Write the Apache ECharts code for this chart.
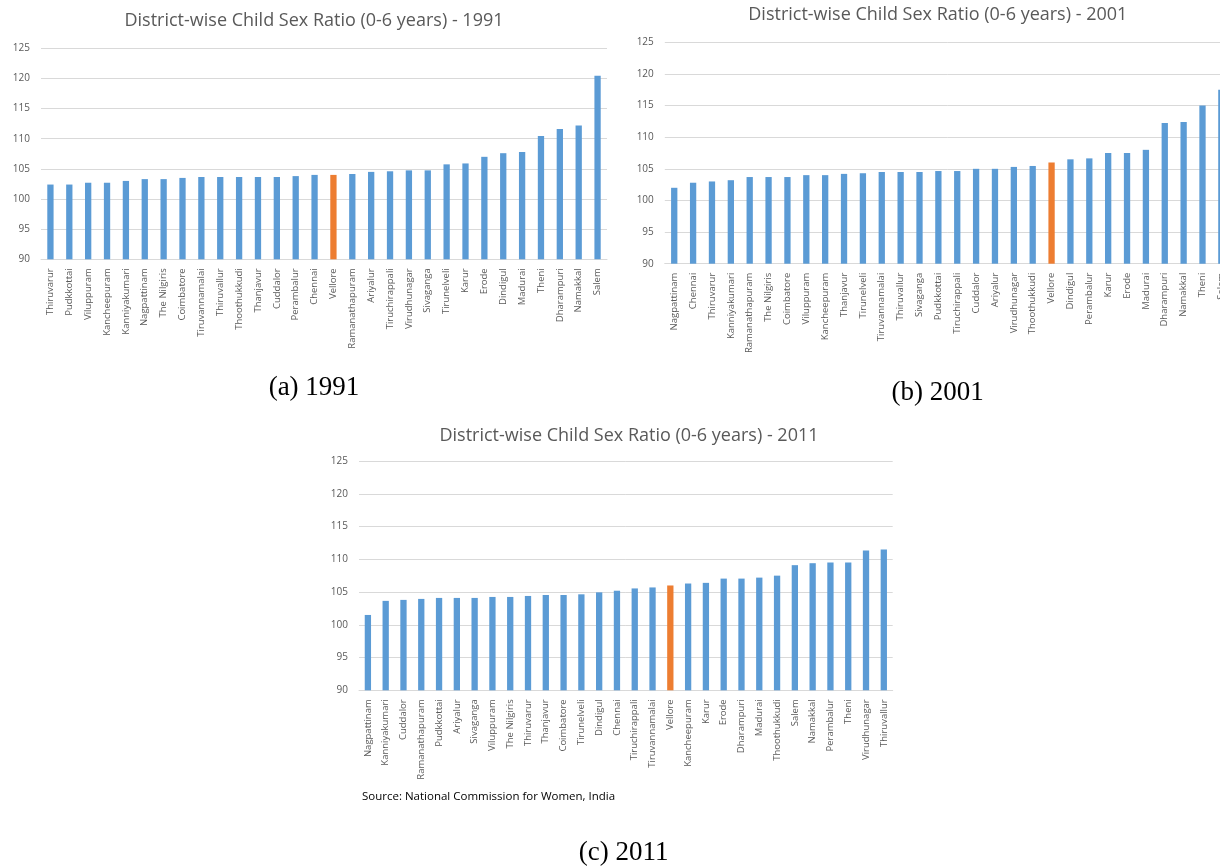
<!DOCTYPE html>
<html>
<head>
<meta charset="utf-8">
<script src="https://cdn.jsdelivr.net/npm/echarts@6/dist/echarts.min.js"></script>
<style>
html,body{margin:0;padding:0;background:#fff;overflow:hidden;}
#chart{width:1240px;height:867px;}
</style>
</head>
<body>
<div id="chart"></div>
<script>
// ---------- data ----------
const cats1991 = ["Thiruvarur","Pudkkottai","Viluppuram","Kancheepuram","Kanniyakumari","Nagpattinam","The Nilgiris","Coimbatore","Tiruvannamalai","Thiruvallur","Thoothukkudi","Thanjavur","Cuddalor","Perambalur","Chennai","Vellore","Ramanathapuram","Ariyalur","Tiruchirappali","Virudhunagar","Sivaganga","Tirunelveli","Karur","Erode","Dindigul","Madurai","Theni","Dharampuri","Namakkal","Salem"];
const vals1991 = [102.4,102.4,102.7,102.7,103.0,103.3,103.3,103.5,103.65,103.65,103.65,103.65,103.65,103.8,104.0,104.0,104.15,104.5,104.6,104.75,104.75,105.75,105.9,107.0,107.6,107.8,110.45,111.6,112.2,120.45];

const cats2001 = ["Nagpattinam","Chennai","Thiruvarur","Kanniyakumari","Ramanathapuram","The Nilgiris","Coimbatore","Viluppuram","Kancheepuram","Thanjavur","Tirunelveli","Tiruvannamalai","Thiruvallur","Sivaganga","Pudkkottai","Tiruchirappali","Cuddalor","Ariyalur","Virudhunagar","Thoothukkudi","Vellore","Dindigul","Perambalur","Karur","Erode","Madurai","Dharampuri","Namakkal","Theni","Salem"];
const vals2001 = [102.0,102.8,103.0,103.2,103.7,103.7,103.7,104.0,104.0,104.2,104.3,104.5,104.5,104.5,104.65,104.65,105.0,105.0,105.3,105.45,106.0,106.5,106.65,107.5,107.5,108.0,112.25,112.4,115.0,117.5];

const cats2011 = ["Nagpattinam","Kanniyakumari","Cuddalor","Ramanathapuram","Pudkkottai","Ariyalur","Sivaganga","Viluppuram","The Nilgiris","Thiruvarur","Thanjavur","Coimbatore","Tirunelveli","Dindigul","Chennai","Tiruchirappali","Tiruvannamalai","Vellore","Kancheepuram","Karur","Erode","Dharampuri","Madurai","Thoothukkudi","Salem","Namakkal","Perambalur","Theni","Virudhunagar","Thiruvallur"];
const vals2011 = [101.5,103.65,103.8,103.95,104.1,104.1,104.1,104.25,104.25,104.4,104.55,104.55,104.65,104.95,105.2,105.55,105.7,106.0,106.3,106.4,107.05,107.05,107.2,107.5,109.1,109.4,109.5,109.5,111.35,111.5];

const yMin = 90, yMax = 125, yStep = 5;
const highlight = "Vellore";
const titles = ["District-wise Child Sex Ratio (0-6 years) - 1991","District-wise Child Sex Ratio (0-6 years) - 2001","District-wise Child Sex Ratio (0-6 years) - 2011"];
const captions = ["(a) 1991","(b) 2001","(c) 2011"];
const sourceText = "Source: National Commission for Women, India";

// ---------- styling ----------
const BLUE = "#5b9bd5", ORANGE = "#ed7d31", GREY = "#595959", GRID = "#d9d9d9";
const FONT = "'Open Sans', 'Liberation Sans', sans-serif";
const SERIF = "27px 'Liberation Serif', serif";

const grids = [
  {left: 41, top: 48.3, width: 566, height: 211},
  {left: 664.8, top: 42.3, width: 566, height: 221.4},
  {left: 359, top: 461, width: 533.7, height: 229.3}
];
const allCats = [cats1991, cats2001, cats2011];
const allVals = [vals1991, vals2001, vals2011];

const chart = echarts.init(document.getElementById('chart'), null, {renderer: 'canvas'});

function txt(x, y, text, font, fill, align) {
  return {type: 'text', x: x, y: y, style: {text: text, fill: fill, font: font,
    align: align, verticalAlign: 'middle', textAlign: align, textVerticalAlign: 'middle'}};
}

const option = {
  animation: false,
  backgroundColor: '#fff',
  grid: grids.map(g => Object.assign({containLabel: false}, g)),
  xAxis: allCats.map((c, i) => ({
    type: 'category', gridIndex: i, data: c,
    axisLine: {show: true, lineStyle: {color: GRID, width: 1}},
    axisTick: {show: false},
    axisLabel: {interval: 0, rotate: 90, fontSize: 9.5, color: GREY, fontFamily: FONT, margin: 9}
  })),
  yAxis: allCats.map((c, i) => ({
    type: 'value', gridIndex: i, min: yMin, max: yMax, interval: yStep,
    axisLine: {show: false}, axisTick: {show: false},
    splitLine: {lineStyle: {color: GRID, width: 1}},
    axisLabel: {fontSize: 10, color: GREY, fontFamily: FONT, margin: 11}
  })),
  series: allVals.map((v, i) => ({
    type: 'bar', xAxisIndex: i, yAxisIndex: i, barWidth: 6.3,
    data: v.map((val, j) => ({
      value: val,
      itemStyle: {color: allCats[i][j] === highlight ? ORANGE : BLUE}
    }))
  })),
  graphic: [
    txt(314, 20.7, titles[0], "18px " + FONT, GREY, 'center'),
    txt(937.8, 15, titles[1], "18px " + FONT, GREY, 'center'),
    txt(629, 436, titles[2], "18px " + FONT, GREY, 'center'),
    txt(314, 388, captions[0], SERIF, '#000', 'center'),
    txt(937.6, 393, captions[1], SERIF, '#000', 'center'),
    txt(623.7, 853, captions[2], SERIF, '#000', 'center'),
    txt(362, 796.7, sourceText, "11.5px " + FONT, '#000', 'left')
  ]
};
chart.setOption(option);
</script>
</body>
</html>
